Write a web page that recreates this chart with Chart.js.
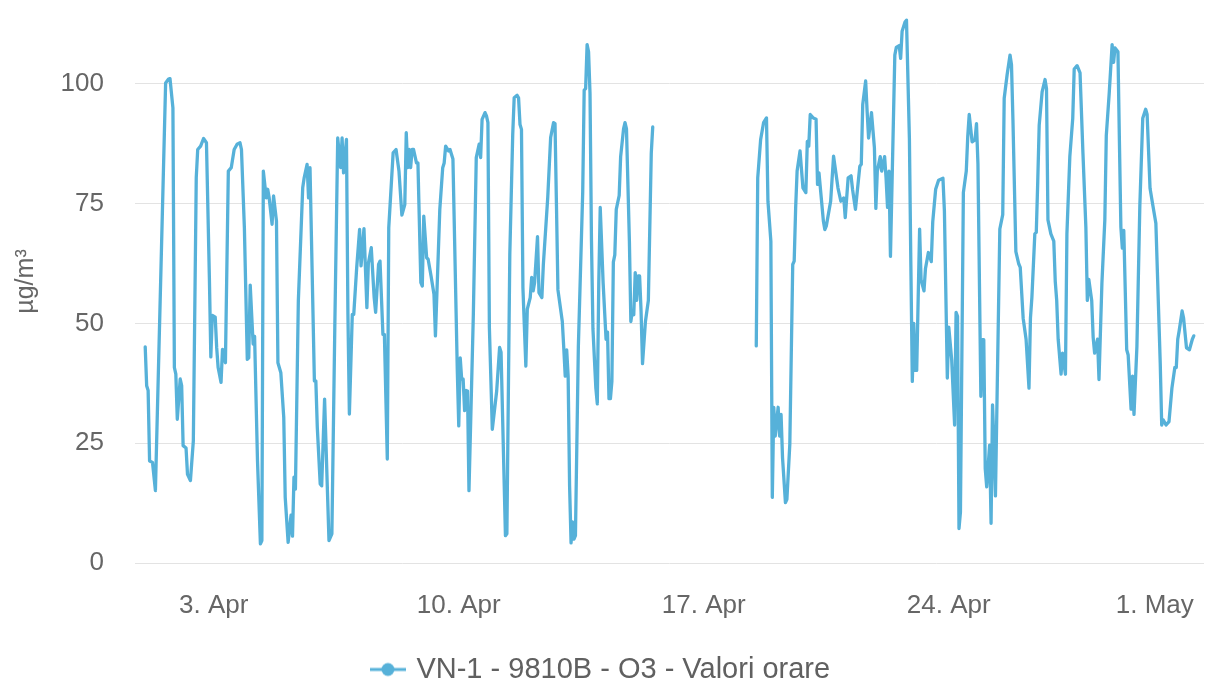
<!DOCTYPE html>
<html>
<head>
<meta charset="utf-8">
<title>VN-1 - 9810B - O3 - Valori orare</title>
<script src="https://cdn.jsdelivr.net/npm/chart.js@4.4.1/dist/chart.umd.min.js"></script>
<style>
  html, body { margin: 0; padding: 0; background: #ffffff; }
  #wrap { width: 1209px; height: 684px; }
</style>
</head>
<body>
<div id="wrap"><canvas id="chart" width="1209" height="684"></canvas></div>
<script>
// hours counted from 1 Apr 00:00; null marks the missing stretch
var hours = [
  1, 2, 3, 4, 6, 8, 15, 17, 18, 20, 21, 22, 23, 25, 26, 27, 29, 30, 32, 34,
  36, 37, 39, 41, 43, 45, 46, 47, 49, 50, 51, 53, 54, 56, 58, 60, 62, 64, 66, 67,
  69, 71, 72, 73, 75, 76, 78, 80, 81, 82, 84, 85, 86, 88, 89, 91, 92, 94, 96, 97,
  99, 101, 102, 103, 104, 106, 109, 110, 112, 113, 114, 117, 118, 119, 121, 122, 124, 127, 129, 131,
  133, 135, 136, 137, 139, 140, 141, 143, 144, 146, 148, 149, 151, 153, 154, 156, 158, 159, 161, 162,
  164, 165, 167, 168, 171, 173, 175, 177, 179, 180, 181, 182, 183, 184, 185, 187, 188, 190, 191, 192,
  194, 195, 197, 199, 200, 203, 205, 206, 207, 209, 210, 212, 215, 216, 217, 218, 219, 220, 221, 222,
  223, 226, 228, 230, 231, 232, 234, 235, 236, 237, 239, 242, 244, 245, 248, 249, 251, 253, 254, 256,
  257, 258, 259, 260, 262, 263, 265, 266, 267, 268, 270, 271, 273, 274, 277, 279, 281, 282, 283, 284,
  287, 288, 289, 290, 291, 292, 293, 294, 295, 296, 298, 301, 302, 303, 304, 305, 306, 307, 308, 310,
  311, 312, 313, 315, 317, 318, 319, 320, 321, 322, 323, 324, 326, 327, 329, 330, 331, 333, 334, 335,
  336, 337, 338, 339, 340, 341, 342, 344, 346, 348, 349, 385,
  420, 421, 423, 425, 427, 428, 430, 431, 432, 433, 435, 436, 437, 438, 440, 441, 443, 445, 446, 447,
  448, 450, 452, 454, 455, 456, 457, 459, 461, 462, 463, 466, 467, 468, 471, 473, 476, 478, 480, 481,
  483, 485, 486, 488, 491, 492, 493, 495, 496, 497, 499, 501, 502, 503, 505, 506, 508, 509, 510, 511,
  512, 515, 516, 518, 519, 520, 522, 523, 525, 526, 527, 528, 529, 530, 532, 533, 535, 536, 538, 540,
  541, 543, 545, 548, 549, 551, 552, 554, 556, 557, 558, 559, 560, 562, 564, 565, 566, 568, 570, 571,
  572, 574, 575, 576, 577, 578, 580, 581, 582, 583, 584, 587, 589, 590, 592, 594, 595, 596, 598, 600,
  601, 603, 605, 607, 608, 609, 611, 612, 613, 614, 616, 618, 619, 620, 622, 624, 625, 626, 627, 629,
  630, 632, 633, 635, 637, 638, 640, 642, 644, 646, 647, 648, 650, 651, 652, 654, 655, 657, 659, 660,
  662, 664, 665, 666, 668, 669, 670, 671, 672, 674, 675, 677, 678, 679, 681, 683, 685, 687, 688, 690,
  692, 694, 697, 698, 699, 701, 703, 705, 707, 708, 709, 710, 712, 713, 715, 717, 719, 720
];
var o3Values = [
  45.1, 37, 36, 21.3, 21, 15.1, 100.2, 101, 101.1, 95, 40.8, 39.4, 30, 38.4, 37, 24.5, 24, 18.5, 17.2, 25.5,
  80.4, 86.3, 87, 88.6, 87.7, 59.6, 43, 51.7, 51.3, 45, 40.8, 37.7, 44.6, 41.8, 81.8, 82.5, 86.3, 87.4, 87.7, 86.3,
  70, 42.5, 42.8, 58, 45.7, 47.3, 21.3, 4, 4.7, 81.8, 76.2, 78, 76.2, 70.7, 76.6, 71.4, 41.8, 39.7, 30.4, 13.7,
  4.3, 10, 5.6, 17.9, 15.4, 54.7, 78.3, 80.4, 83.2, 76.2, 82.5, 38, 38, 28.3, 16.5, 16.1, 34.2, 4.7, 6.1, 49.1,
  88.7, 82.5, 88.7, 81.4, 88.4, 51.9, 31.1, 51.9, 51.9, 61.6, 69.6, 62, 69.8, 53.3, 62.5, 65.8, 55.4, 52.3, 62.3, 63,
  47.7, 47.7, 21.7, 70, 85.6, 86.3, 81.8, 72.6, 74.8, 89.8, 82.5, 86.3, 82.5, 86.3, 86.3, 83.5, 83.5, 58.5, 57.8, 72.4,
  63.7, 63.4, 59.9, 56.1, 47.4, 73.8, 82.5, 83.5, 87, 86, 86.3, 84.3, 40.1, 28.6, 42.8, 38.4, 38.4, 31.8, 36, 35.9,
  15.1, 51.9, 84.6, 87.4, 84.6, 92.6, 94, 93.3, 91.9, 49.1, 27.9, 35.9, 45, 44, 5.7, 6.1, 64.4, 89.4, 97.1, 97.6,
  97.1, 91.5, 90.5, 57.4, 41.1, 53, 55.4, 59.6, 56.8, 58.5, 68.1, 56.4, 55.4, 62.3, 76.2, 88.8, 91.9, 91.7, 74.5, 57,
  50.4, 44.9, 39, 44.5, 39, 16, 4.2, 8.6, 5, 5.7, 45.2, 77.5, 98.7, 99, 108.2, 106.7, 98, 67.2, 48.9, 36.5,
  33.2, 58.4, 74.2, 58.4, 46.7, 48.2, 34.3, 34.3, 37.9, 62.8, 64.3, 73.8, 76.7, 84.8, 90.6, 91.9, 90.6, 67.2, 50.4, 52.6,
  51.8, 60.6, 54.8, 59.9, 59.9, 52.6, 41.6, 50.4, 54.8, 85.5, 91, null,
  45.3, 80.4, 88.4, 91.9, 92.9, 75.5, 67.2, 13.7, 32.5, 26.5, 32.5, 26.5, 31, 22, 12.6, 13.3, 24.8, 62.3, 63, 74.1,
  81.8, 86, 78.3, 77.3, 88, 87, 93.6, 92.9, 92.6, 79, 81.4, 71.4, 69.6, 70.3, 75.5, 84.9, 78.3, 75.5, 76.2, 72.1,
  80.4, 80.8, 78, 73.8, 82.8, 83.2, 95.7, 100.6, 94.3, 88.7, 94, 86.7, 74, 81.8, 84.8, 81.8, 84.8, 80.3, 74.2, 81.8,
  64, 106, 107.6, 108, 105.3, 111, 112.9, 113.3, 88.6, 62.1, 37.9, 50, 40.2, 40.2, 69.7, 59.1, 56.8, 61.4, 64.8, 62.9,
  71.2, 78, 79.9, 80.3, 73.5, 38.6, 49.2, 42.4, 28.8, 52.3, 51.5, 7.2, 10.6, 77.3, 81.8, 89, 93.6, 87.9, 88.3, 91.7,
  83.3, 34.8, 46.6, 46.6, 19.7, 15.9, 24.6, 8.3, 33, 24.6, 14, 69.7, 72.7, 97, 101.9, 106, 104, 92.4, 65, 62.4,
  61.7, 51.1, 46.7, 36.5, 51.1, 55.5, 68.7, 69, 79.6, 91.4, 98.3, 100.9, 99, 71.6, 68.7, 67.2, 58.8, 54.8, 46.7, 39.4,
  43.8, 39.4, 68.7, 84.8, 92.8, 103.1, 103.8, 102.3, 85.5, 70.1, 54.8, 59.2, 54.8, 47.1, 43.8, 46.7, 38.3, 58.4, 71.6, 89.2,
  98, 108.2, 104.5, 107.5, 106.7, 88, 70.1, 65.7, 69.4, 44.5, 43.4, 32.1, 39, 31, 45.2, 74.5, 92.8, 94.7, 93.6, 78.2,
  74.5, 70.9, 41.6, 28.8, 29.9, 28.8, 29.5, 36.5, 40.8, 40.8, 46.7, 48.5, 52.6, 51.1, 44.9, 44.5, 46.7, 47.4
];
var tickHours = [48, 216, 384, 552, 720];
var tickLabels = ['3. Apr', '10. Apr', '17. Apr', '24. Apr', '1. May'];
var yTicks = [0, 25, 50, 75, 100];
var seriesName = 'VN-1 - 9810B - O3 - Valori orare';
var unitLabel = 'µg/m³';

var lineColor = '#56b1d9';
var textColor = '#666666';
var fontFamily = "'Liberation Sans', Arial, Helvetica, sans-serif";

var points = hours.map(function (h, i) {
  return { x: h, y: o3Values[i] };
});

// line with a dot, like the legend marker of the original
function legendSymbol() {
  var c = document.createElement('canvas');
  c.width = 36;
  c.height = 16;
  var g = c.getContext('2d');
  g.strokeStyle = lineColor;
  g.lineWidth = 3;
  g.beginPath();
  g.moveTo(0, 8);
  g.lineTo(36, 8);
  g.stroke();
  g.fillStyle = lineColor;
  g.beginPath();
  g.arc(18, 8, 6.5, 0, Math.PI * 2);
  g.fill();
  return c;
}

new Chart(document.getElementById('chart'), {
  type: 'line',
  data: {
    datasets: [{
      label: seriesName,
      data: points,
      borderColor: lineColor,
      backgroundColor: lineColor,
      borderWidth: 3.3,
      borderJoinStyle: 'round',
      borderCapStyle: 'round',
      pointRadius: 0,
      tension: 0,
      spanGaps: false
    }]
  },
  options: {
    responsive: false,
    animation: false,
    events: [],
    layout: { padding: { top: 0, right: 5, bottom: 0, left: 0 } },
    plugins: {
      tooltip: { enabled: false },
      legend: {
        position: 'bottom',
        maxHeight: 29,
        labels: {
          usePointStyle: true,
          pointStyle: legendSymbol(),
          pointStyleWidth: 28,
          padding: 0,
          color: '#606060',
          font: { family: fontFamily, size: 29 }
        }
      }
    },
    scales: {
      x: {
        type: 'linear',
        min: -6,
        max: 727,
        grid: { display: false, drawTicks: false },
        border: { display: false },
        afterBuildTicks: function (axis) {
          axis.ticks = [axis.min].concat(tickHours).map(function (v) { return { value: v }; });
        },
        afterFit: function (axis) {
          axis.height = 92;
          axis.paddingLeft = 0;
          axis.paddingRight = 0;
        },
        ticks: {
          autoSkip: false,
          maxRotation: 0,
          align: 'inner',
          padding: 27,
          color: textColor,
          font: { family: fontFamily, size: 26 },
          callback: function (value) {
            var i = tickHours.indexOf(value);
            return i < 0 ? '' : tickLabels[i];
          }
        }
      },
      y: {
        min: 0,
        max: 117.5,
        grid: { color: '#e3e3e3', lineWidth: 1, drawTicks: false },
        border: { display: false },
        afterBuildTicks: function (axis) {
          axis.ticks = yTicks.map(function (v) { return { value: v }; });
        },
        afterFit: function (axis) {
          axis.width = 135;
          axis.paddingTop = 0;
          axis.paddingBottom = 0;
        },
        title: {
          display: true,
          text: unitLabel,
          color: textColor,
          font: { family: fontFamily, size: 25 },
          padding: { top: 11, bottom: 0 }
        },
        ticks: {
          padding: 31,
          color: textColor,
          font: { family: fontFamily, size: 26 }
        }
      }
    }
  }
});
</script>
</body>
</html>
